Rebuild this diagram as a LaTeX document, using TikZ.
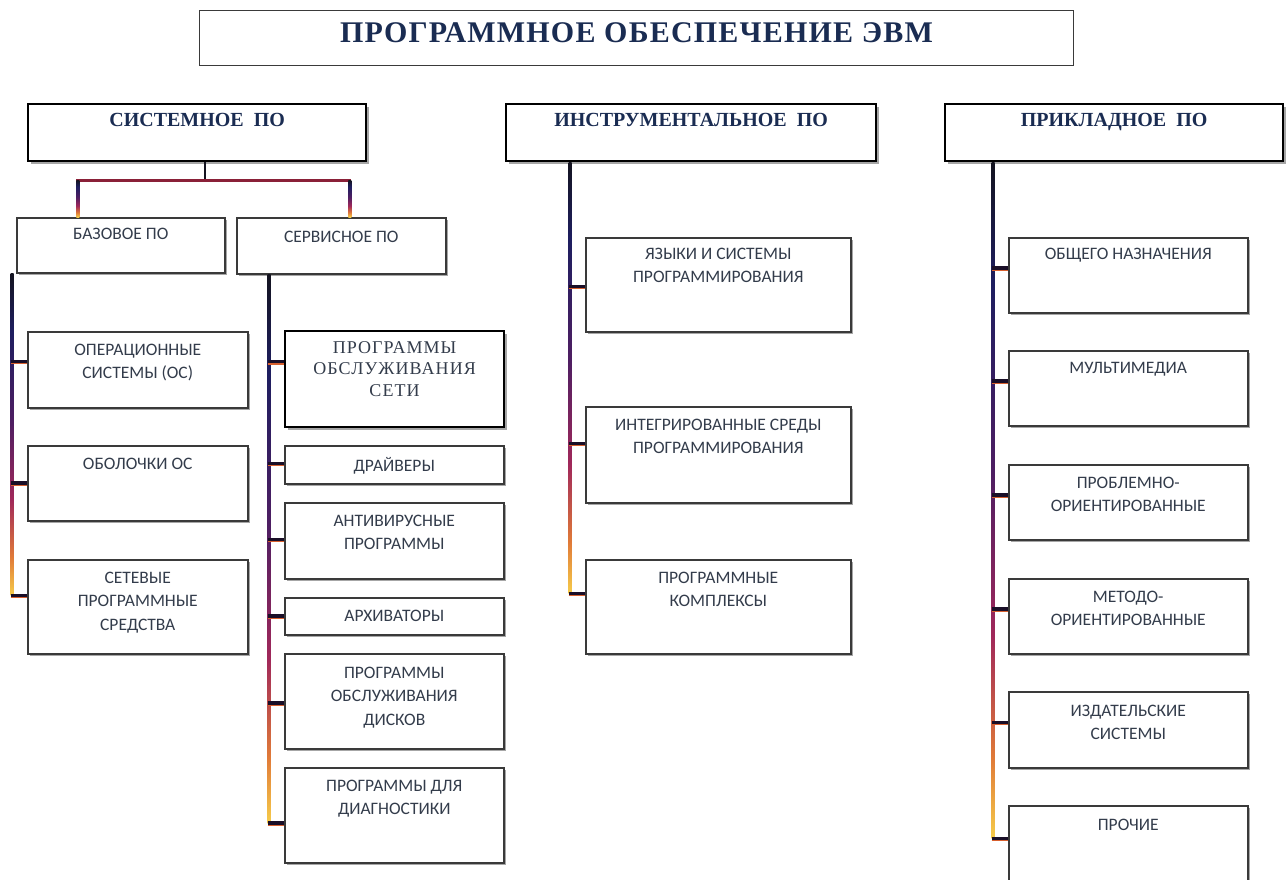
\documentclass[tikz,border=0pt]{standalone}
\usepackage{fontspec}
\setmainfont{Liberation Serif}
\newfontfamily\labfont{Carlito}
\newfontfamily\serfont[LetterSpace=6]{Liberation Serif}
\newfontfamily\hdrfont{Liberation Serif}
\newfontfamily\titfont[LetterSpace=4]{Liberation Serif}
\usetikzlibrary{shadows,calc}
\definecolor{txt}{HTML}{333C4B}
\definecolor{hdrc}{HTML}{1A2C52}
\definecolor{bord}{HTML}{3A3A3A}
\definecolor{stubc}{HTML}{1A0F28}
\definecolor{stubo}{HTML}{D8602E}
\definecolor{tnavy}{HTML}{1E1E60}
\definecolor{tblack}{HTML}{141420}
\definecolor{tpur}{HTML}{4E1E62}
\definecolor{tmag}{HTML}{A0285A}
\definecolor{tora}{HTML}{E07A38}
\definecolor{tyel}{HTML}{F6CC4A}
\definecolor{hbar}{HTML}{8A2038}
\pgfdeclareverticalshading{trunkgrad}{100bp}{color(0bp)=(tyel); color(25bp)=(tyel); color(31bp)=(tora); color(40bp)=(tmag); color(52bp)=(tpur); color(66bp)=(tnavy); color(75bp)=(tblack); color(100bp)=(tblack)}
\newcommand\lb[4]{\parbox[c][#2pt][t]{#1pt}{\centering\vspace*{#3pt}#4\par}}
\tikzset{
  box/.style={draw=bord, line width=1.5pt, fill=white, inner sep=0pt, anchor=north west, text=txt,
    font=\labfont\fontsize{17.5}{23.5}\selectfont,
    drop shadow={shadow xshift=2.5pt, shadow yshift=-2.5pt, opacity=0.35, fill=black}},
  hbox/.style={box, draw=black, line width=2.2pt, text=hdrc, font=\hdrfont\bfseries\fontsize{20}{22}\selectfont},
  sbox/.style={box, draw=black, line width=2.2pt, font=\serfont\fontsize{18}{21.5}\selectfont},
  tbox/.style={draw=bord, line width=1pt, fill=white, inner sep=0pt, anchor=north west, text=hdrc,
    font=\titfont\bfseries\fontsize{30}{32}\selectfont},
  stub/.style={draw=stubc, line width=3.6pt,
    postaction={draw=stubo, line width=1.4pt, transform canvas={yshift=-2pt}}},
  trunk/.style={shading=trunkgrad},
  hline/.style={draw=hbar, line width=2.6pt},
  vline/.style={draw=tblack, line width=2.6pt}
}
\begin{document}
\begin{tikzpicture}[x=1pt,y=-1pt]
\useasboundingbox[fill=white] (0,0) rectangle (1287,879);
% title
\node[tbox] (title) at (199,10) {\lb{874}{55}{12}{ПРОГРАММНОЕ ОБЕСПЕЧЕНИЕ ЭВМ}};
% headers
\node[hbox] (sys) at (27,103) {\lb{338}{57}{9}{СИСТЕМНОЕ\ \ ПО}};
\node[hbox] (ins) at (505,103) {\lb{370}{57}{9}{ИНСТРУМЕНТАЛЬНОЕ\ \ ПО}};
\node[hbox] (app) at (944,103) {\lb{338}{57}{9}{ПРИКЛАДНОЕ\ \ ПО}};
% system sub
\node[box] (baz) at (16,217) {\lb{208}{55}{10}{БАЗОВОЕ ПО}};
\node[box] (serv) at (236,217) {\lb{209}{56}{13}{СЕРВИСНОЕ ПО}};
% base children
\node[box] (os) at (27,331) {\lb{220}{76}{12}{ОПЕРАЦИОННЫЕ\\СИСТЕМЫ (ОС)}};
\node[box] (obol) at (27,445) {\lb{220}{75}{12}{ОБОЛОЧКИ ОС}};
\node[box] (set) at (27,559) {\lb{220}{94}{12}{СЕТЕВЫЕ\\ПРОГРАММНЫЕ\\СРЕДСТВА}};
% service children
\node[sbox] (net) at (284,330) {\lb{219}{96}{10}{ПРОГРАММЫ\\ОБСЛУЖИВАНИЯ\\СЕТИ}};
\node[box] (drv) at (284,445) {\lb{219}{38}{12}{ДРАЙВЕРЫ}};
\node[box] (anti) at (284,502) {\lb{219}{76}{12}{АНТИВИРУСНЫЕ\\ПРОГРАММЫ}};
\node[box] (arch) at (284,597) {\lb{219}{37}{12}{АРХИВАТОРЫ}};
\node[box] (disk) at (284,653) {\lb{219}{95}{13}{ПРОГРАММЫ\\ОБСЛУЖИВАНИЯ\\ДИСКОВ}};
\node[box] (diag) at (284,767) {\lb{219}{95}{12}{ПРОГРАММЫ ДЛЯ\\ДИАГНОСТИКИ}};
% instrumental children
\node[box] (yaz) at (585,237) {\lb{265}{94}{10}{ЯЗЫКИ И СИСТЕМЫ\\ПРОГРАММИРОВАНИЯ}};
\node[box] (integ) at (585,406) {\lb{265}{96}{12}{ИНТЕГРИРОВАННЫЕ СРЕДЫ\\ПРОГРАММИРОВАНИЯ}};
\node[box] (kompl) at (585,559) {\lb{265}{94}{12}{ПРОГРАММНЫЕ\\КОМПЛЕКСЫ}};
% applied children
\node[box] (obsh) at (1008,237) {\lb{239}{75}{10}{ОБЩЕГО НАЗНАЧЕНИЯ}};
\node[box] (multi) at (1008,350) {\lb{239}{75}{12}{МУЛЬТИМЕДИА}};
\node[box] (probl) at (1008,464) {\lb{239}{75}{12}{ПРОБЛЕМНО-\\ОРИЕНТИРОВАННЫЕ}};
\node[box] (metod) at (1008,578) {\lb{239}{75}{12}{МЕТОДО-\\ОРИЕНТИРОВАННЫЕ}};
\node[box] (izd) at (1008,691) {\lb{239}{76}{13}{ИЗДАТЕЛЬСКИЕ\\СИСТЕМЫ}};
\node[box] (proch) at (1008,805) {\lb{239}{80}{13}{ПРОЧИЕ}};

% ---- system header to base / service
\coordinate (sj) at ($(sys.south)+(8,0)$);
\coordinate (hj) at ($(sj)+(0,18)$);
\coordinate (bl) at ($(baz.north)+(-43,0)$);
\coordinate (br) at ($(serv.north)+(8.5,0)$);
\draw[vline] (sj) -- (hj);
\draw[hline] ($(hj-|bl)+(-1.5,0)$) -- ($(hj-|br)+(1.5,0)$);
\shade[trunk] ($(hj-|bl)+(-1.5,0)$) rectangle ($(bl)+(1.5,0)$);
\shade[trunk] ($(hj-|br)+(-1.5,0)$) rectangle ($(br)+(1.5,0)$);

% ---- base trunk
\coordinate (bt) at ($(baz.south west)+(-4,0)$);
\coordinate (b1) at ($(os.west)+(0,-8)$);
\coordinate (b2) at (obol.west);
\coordinate (b3) at ($(set.west)+(0,-11)$);
\shade[trunk] ($(bt)+(-1.5,0)$) rectangle ($(bt|-b3)+(1.5,0)$);
\draw[stub] ($(bt|-b1)+(-1.5,0)$) -- (b1);
\draw[stub] ($(bt|-b2)+(-1.5,0)$) -- (b2);
\draw[stub] ($(bt|-b3)+(-1.5,0)$) -- (b3);

% ---- service trunk
\coordinate (st) at ($(serv.south west)+(33,0)$);
\coordinate (s1) at ($(net.west)+(0,-17)$);
\coordinate (s2) at ($(drv.west)+(0,-1)$);
\coordinate (s3) at ($(anti.west)+(0,-1)$);
\coordinate (s4) at (arch.west);
\coordinate (s5) at ($(disk.west)+(0,2)$);
\coordinate (s6) at ($(diag.west)+(0,8)$);
\shade[trunk] ($(st)+(-1.5,0)$) rectangle ($(st|-s6)+(1.5,0)$);
\foreach \c in {s1,s2,s3,s4,s5,s6}{\draw[stub] ($(st|-\c)+(-1.5,0)$) -- (\c);}

% ---- instrumental trunk
\coordinate (it) at ($(ins.south west)+(65,0)$);
\coordinate (i1) at ($(yaz.west)+(0,2)$);
\coordinate (i2) at ($(integ.west)+(0,-11)$);
\coordinate (i3) at ($(kompl.west)+(0,-13)$);
\shade[trunk] ($(it)+(-1.5,0)$) rectangle ($(it|-i3)+(1.5,0)$);
\foreach \c in {i1,i2,i3}{\draw[stub] ($(it|-\c)+(-1.5,0)$) -- (\c);}

% ---- applied trunk
\coordinate (at) at ($(app.south west)+(49,0)$);
\coordinate (a1) at ($(obsh.west)+(0,-7)$);
\coordinate (a2) at ($(multi.west)+(0,-7)$);
\coordinate (a3) at ($(probl.west)+(0,-7)$);
\coordinate (a4) at ($(metod.west)+(0,-7)$);
\coordinate (a5) at ($(izd.west)+(0,-7)$);
\coordinate (a6) at ($(proch.west)+(0,-7)$);
\shade[trunk] ($(at)+(-1.5,0)$) rectangle ($(at|-a6)+(1.5,0)$);
\foreach \c in {a1,a2,a3,a4,a5,a6}{\draw[stub] ($(at|-\c)+(-1.5,0)$) -- (\c);}
\end{tikzpicture}
\end{document}
